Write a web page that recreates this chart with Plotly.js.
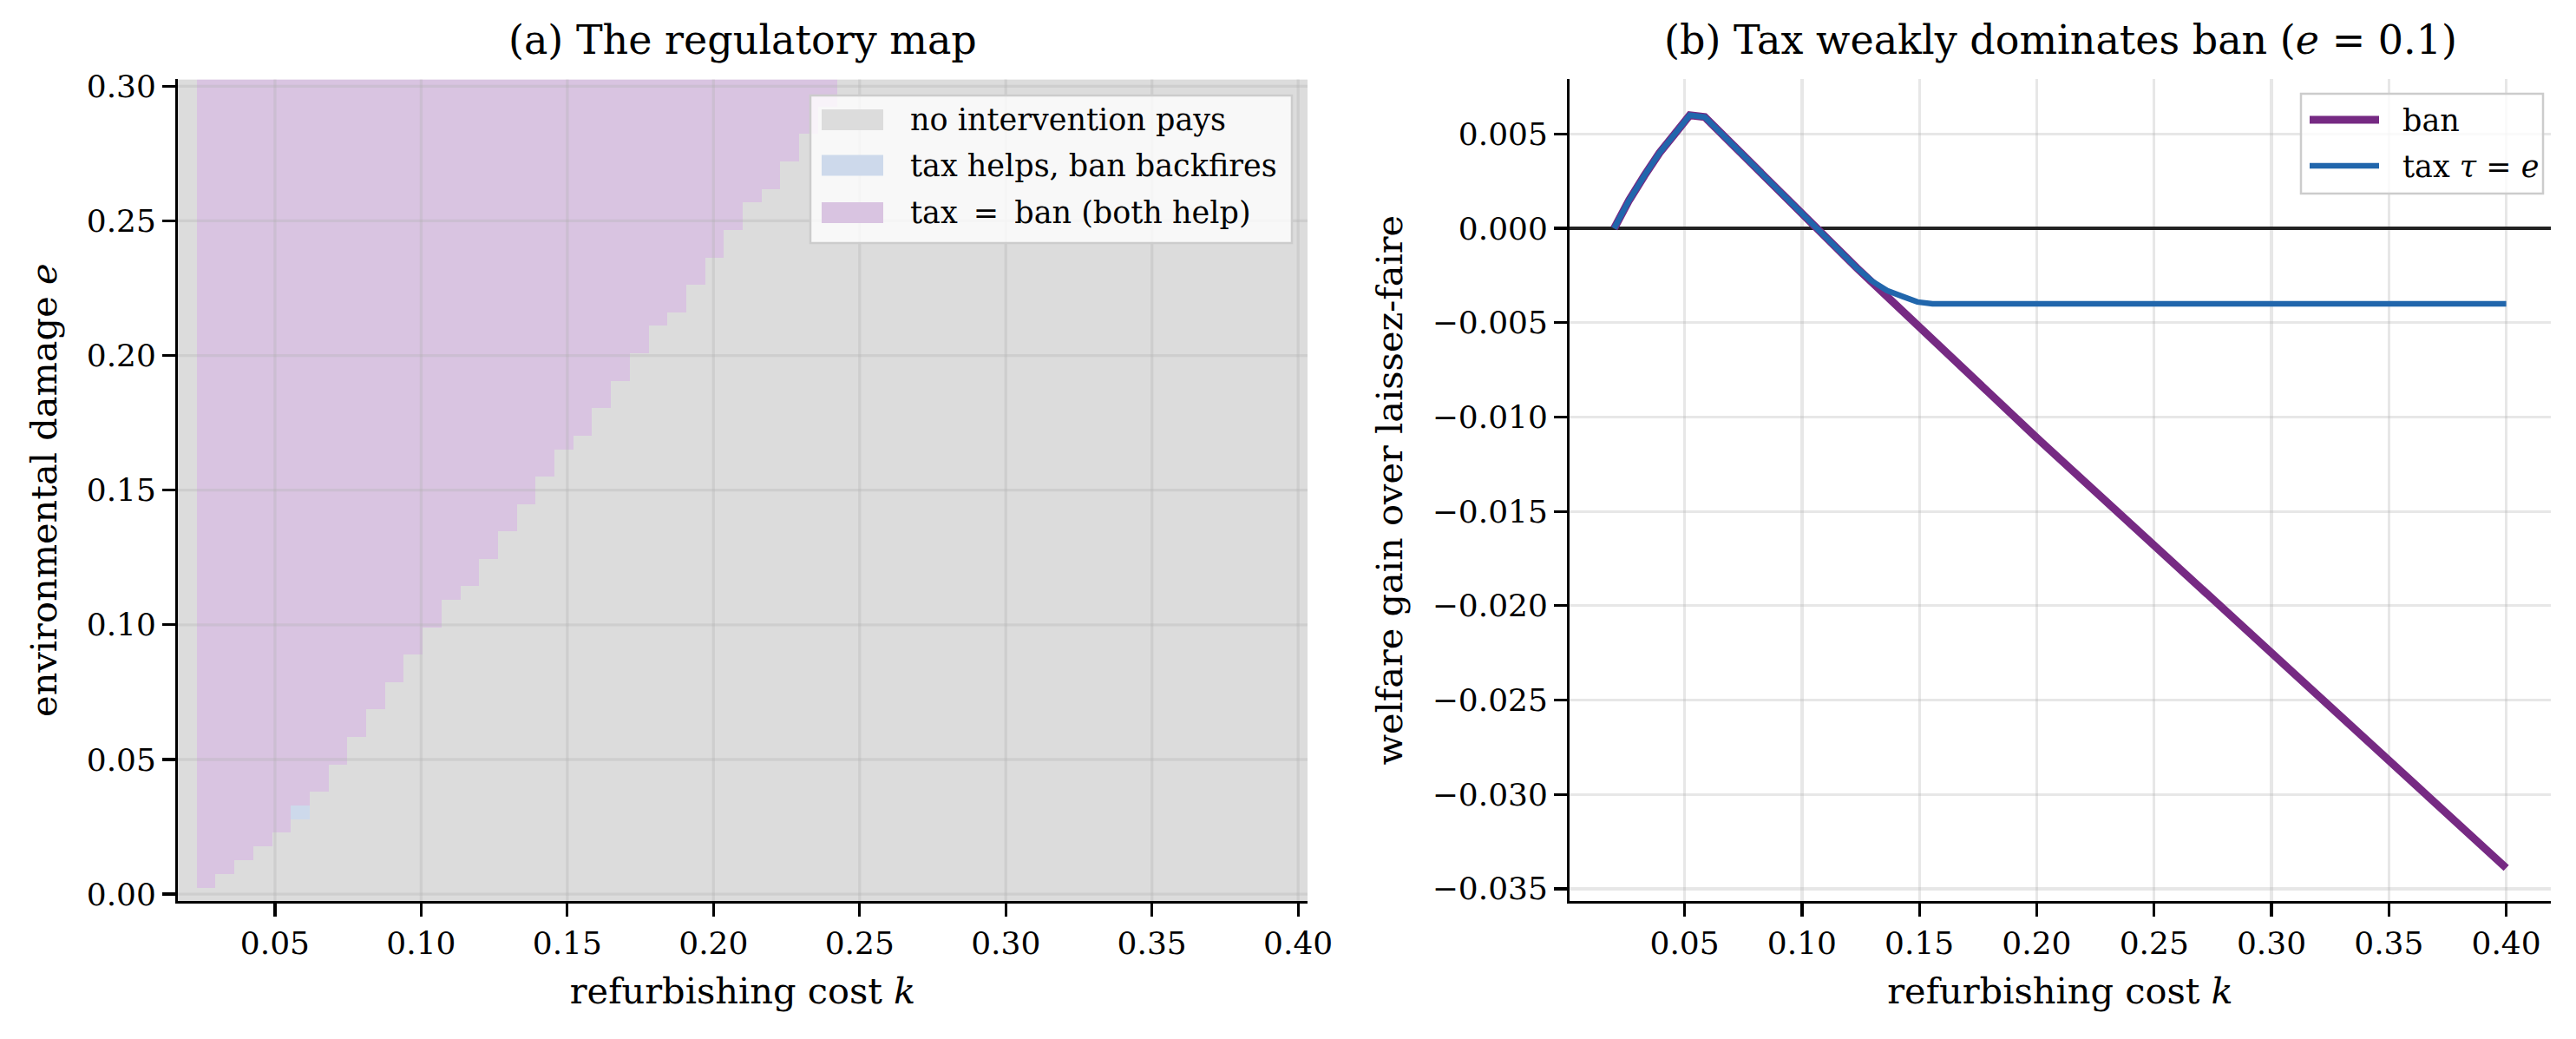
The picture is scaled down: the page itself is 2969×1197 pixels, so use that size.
<!DOCTYPE html>
<html>
<head>
<meta charset="utf-8">
<script src="https://cdn.plot.ly/plotly-3.0.1.min.js"></script>
<style>html,body{margin:0;padding:0;background:#fff;}#chart{width:2969px;height:1197px;}</style>
</head>
<body>
<div id="chart"></div>
<script>
// ---------------- data ----------------
// (a) regulatory map: 60 x 60 grid of refurbishing cost k and damage e
const K_FIRST = 0.02, K_STEP = 0.00644, N_K = 60;
const E_FIRST = 0.0, E_STEP = 0.005085, N_E = 60;
// for each e-row: number of cells (starting at the 2nd k-column) where tax = ban (both help)
const bothHelpCount = [0,1,2,3,4,5,5,6,7,7,8,8,9,9,10,10,11,11,12,12,
                       13,13,14,15,15,16,16,17,17,18,18,19,19,20,21,21,22,22,23,23,
                       24,24,25,26,26,27,27,28,28,29,29,30,31,31,32,32,33,33,34,34];
// cells where tax helps but ban backfires: [row, column]
const taxOnlyCells = [[6, 6]];
const regimeNames = ['no intervention pays', 'tax helps, ban backfires', 'tax \u2009=\u2009 ban (both help)'];

// (b) welfare gain over laissez-faire, e = 0.1
const kBan = [0.020, 0.0264, 0.0329, 0.0393, 0.0458, 0.0522, 0.0586, 0.1058, 0.1234, 0.20, 0.30, 0.40];
const ban  = [0.0, 0.0015, 0.0028, 0.0040, 0.0050, 0.0060, 0.0059, 0.0, -0.0021, -0.0111, -0.0225, -0.0339];
const kTax = [0.020, 0.0264, 0.0329, 0.0393, 0.0458, 0.0522, 0.0586, 0.1058, 0.1234, 0.1299, 0.1363, 0.1427, 0.1492, 0.1556, 0.40];
const tax  = [0.0, 0.0015, 0.0028, 0.0040, 0.0050, 0.0060, 0.0059, 0.0, -0.0021, -0.0028, -0.0033, -0.0036, -0.0039, -0.0040, -0.0040];

const xTicks = [0.05, 0.10, 0.15, 0.20, 0.25, 0.30, 0.35, 0.40];
const eTicks = [0.00, 0.05, 0.10, 0.15, 0.20, 0.25, 0.30];
const wTicks = [0.005, 0.0, -0.005, -0.010, -0.015, -0.020, -0.025, -0.030, -0.035];

// ---------------- build ----------------
const z = [];
for (let j = 0; j < N_E; j++) {
  const row = [];
  for (let i = 0; i < N_K; i++) row.push((i >= 1 && i <= bothHelpCount[j]) ? 2 : 0);
  z.push(row);
}
taxOnlyCells.forEach(([r, c]) => { z[r][c] = 1; });

const W = 2969, H = 1197;
const px = p => p / W, py = p => 1 - p / H;
const FONT = 'DejaVu Serif';
const GREY = '#dcdcdc', BLUEF = 'rgb(205,217,235)', PURPF = 'rgb(217,196,225)';
const BANC = '#762a83', TAXC = '#2166ac';
const GRID = 'rgba(176,176,176,0.3)';

const traces = [
  {type: 'heatmap', z: z, x0: K_FIRST, dx: K_STEP, y0: E_FIRST, dy: E_STEP,
   zmin: 0, zmax: 2, showscale: false, hoverinfo: 'skip', zsmooth: false,
   colorscale: [[0, GREY], [0.33, GREY], [0.33, BLUEF], [0.67, BLUEF], [0.67, PURPF], [1, PURPF]],
   xaxis: 'x', yaxis: 'y'},
  {type: 'scatter', mode: 'lines', x: kBan, y: ban, name: 'ban', showlegend: false,
   line: {color: BANC, width: 9}, xaxis: 'x2', yaxis: 'y2'},
  {type: 'scatter', mode: 'lines', x: kTax, y: tax, name: 'tax τ = e', showlegend: false,
   line: {color: TAXC, width: 6.5}, xaxis: 'x2', yaxis: 'y2'}
];

const axBase = {
  showline: true, linecolor: 'black', linewidth: 3.3, mirror: false,
  ticks: 'outside', ticklen: 14.6, tickwidth: 3.3, tickcolor: 'black',
  zeroline: false, tickfont: {family: FONT, size: 36, color: 'black'},
  automargin: false, fixedrange: true
};
const titleFont = {family: FONT, size: 41.5, color: 'black'};
const yDom = [py(1038), py(91.4)];

const layout = {
  width: W, height: H, margin: {l: 0, r: 0, t: 0, b: 0},
  paper_bgcolor: 'white', plot_bgcolor: 'white', showlegend: false,
  xaxis: Object.assign({}, axBase, {domain: [px(205), px(1507)], anchor: 'y', range: [0.01678, 0.40322],
    tickvals: xTicks, tickformat: '.2f', showgrid: false,
    title: {text: 'refurbishing cost <i>k</i>', font: titleFont, standoff: 22}}),
  yaxis: Object.assign({}, axBase, {domain: yDom, anchor: 'x', range: [-0.002542, 0.302542],
    tickvals: eTicks, tickformat: '.2f', showgrid: false,
    title: {text: 'environmental damage <i>e</i>', font: titleFont, standoff: 22}}),
  xaxis2: Object.assign({}, axBase, {domain: [px(1809), px(2940)], anchor: 'y2', range: [0.001, 0.419],
    tickvals: xTicks, tickformat: '.2f', showgrid: true, gridcolor: GRID, gridwidth: 3.3,
    title: {text: 'refurbishing cost <i>k</i>', font: titleFont, standoff: 22}}),
  yaxis2: Object.assign({}, axBase, {domain: yDom, anchor: 'x2', range: [-0.03565, 0.00790],
    tickvals: wTicks, tickformat: '.3f', showgrid: true, gridcolor: GRID, gridwidth: 3.3,
    zeroline: true, zerolinecolor: '#222222', zerolinewidth: 4.2,
    title: {text: 'welfare gain over laissez-faire', font: titleFont, standoff: 22}}),
  shapes: [], annotations: []
};

// grid over the map (drawn above the image, as in the original)
xTicks.forEach(v => layout.shapes.push({type: 'line', xref: 'x', yref: 'y domain', x0: v, x1: v, y0: 0, y1: 1,
  line: {color: GRID, width: 3.3}, layer: 'above'}));
eTicks.forEach(v => layout.shapes.push({type: 'line', xref: 'x domain', yref: 'y', x0: 0, x1: 1, y0: v, y1: v,
  line: {color: GRID, width: 3.3}, layer: 'above'}));

// legend of panel (a)
layout.shapes.push({type: 'rect', xref: 'paper', yref: 'paper', x0: px(934), x1: px(1489), y0: py(280), y1: py(110),
  fillcolor: 'rgba(255,255,255,0.8)', line: {color: '#cccccc', width: 2.5}, layer: 'above'});
[GREY, BLUEF, PURPF].forEach((c, i) => {
  const yc = [138, 190.5, 245][i];
  layout.shapes.push({type: 'rect', xref: 'paper', yref: 'paper', x0: px(947), x1: px(1018),
    y0: py(yc + 12), y1: py(yc - 12), fillcolor: c, line: {width: 0}, layer: 'above'});
  layout.annotations.push({xref: 'paper', yref: 'paper', x: px(1047), y: py(yc), xanchor: 'left', yanchor: 'middle',
    text: regimeNames[i], showarrow: false, font: {family: FONT, size: 35, color: 'black'}});
});
// legend of panel (b)
layout.shapes.push({type: 'rect', xref: 'paper', yref: 'paper', x0: px(2652), x1: px(2931), y0: py(223), y1: py(108),
  fillcolor: 'rgba(255,255,255,0.8)', line: {color: '#cccccc', width: 2.5}, layer: 'above'});
layout.shapes.push({type: 'line', xref: 'paper', yref: 'paper', x0: px(2662), x1: px(2742), y0: py(138), y1: py(138),
  line: {color: BANC, width: 9}, layer: 'above'});
layout.shapes.push({type: 'line', xref: 'paper', yref: 'paper', x0: px(2662), x1: px(2742), y0: py(191), y1: py(191),
  line: {color: TAXC, width: 6.5}, layer: 'above'});
layout.annotations.push({xref: 'paper', yref: 'paper', x: px(2767), y: py(139), xanchor: 'left', yanchor: 'middle',
  text: 'ban', showarrow: false, font: {family: FONT, size: 35, color: 'black'}});
layout.annotations.push({xref: 'paper', yref: 'paper', x: px(2767), y: py(192), xanchor: 'left', yanchor: 'middle',
  text: 'tax <i>τ</i> = <i>e</i>', showarrow: false, font: {family: FONT, size: 35, color: 'black'}});

// panel titles
layout.annotations.push({xref: 'paper', yref: 'paper', x: px(856), y: py(91.4), xanchor: 'center', yanchor: 'bottom', yshift: 16,
  text: '(a) The regulatory map', showarrow: false, font: {family: FONT, size: 46, color: 'black'}});
layout.annotations.push({xref: 'paper', yref: 'paper', x: px(2374.5), y: py(91.4), xanchor: 'center', yanchor: 'bottom', yshift: 16,
  text: '(b) Tax weakly dominates ban (<i>e</i> = 0.1)', showarrow: false, font: {family: FONT, size: 46, color: 'black'}});

Plotly.newPlot('chart', traces, layout, {staticPlot: true, displayModeBar: false});
</script>
</body>
</html>
